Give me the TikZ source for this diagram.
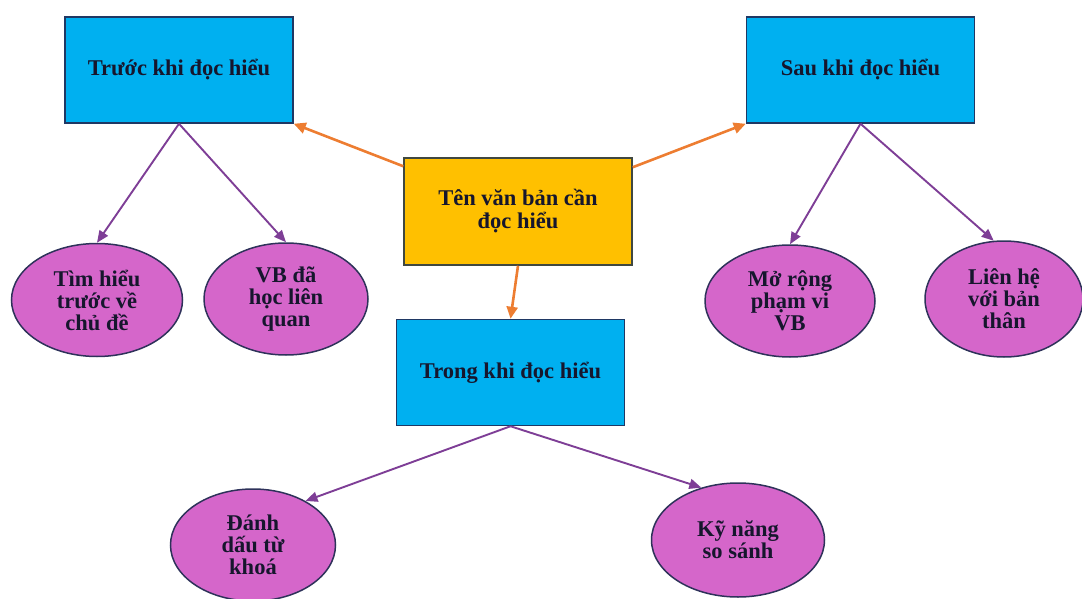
\documentclass[tikz,border=0pt]{standalone}
\usepackage{fontspec}
\setmainfont{Liberation Serif}
\usetikzlibrary{arrows.meta,shapes.geometric}
\definecolor{phaseblue}{RGB}{0,176,240}
\definecolor{boxline}{RGB}{31,56,100}
\definecolor{topicfill}{RGB}{255,192,0}
\definecolor{topicline}{RGB}{64,72,64}
\definecolor{ideafill}{RGB}{213,102,202}
\definecolor{idealine}{RGB}{46,50,90}
\definecolor{orangearrow}{RGB}{237,125,49}
\definecolor{purplearrow}{RGB}{126,62,150}
\definecolor{ink}{RGB}{22,22,45}
\begin{document}
\begin{tikzpicture}[
        x=1pt, y=-1pt,
        phase/.style={rectangle, draw=boxline, line width=1.5pt, fill=phaseblue, minimum width=228pt, minimum height=106pt, text=ink, font=\fontsize{22.5}{22}\selectfont\bfseries},
        topic/.style={rectangle, draw=topicline, line width=1.5pt, fill=topicfill, minimum width=228pt, minimum height=107pt, text=ink, align=center, font=\fontsize{22.5}{23}\selectfont\bfseries},
        idea/.style={ellipse, draw=idealine, line width=1.5pt, fill=ideafill, inner sep=0pt, text=ink, align=center, font=\fontsize{22.5}{22}\selectfont\bfseries},
        main_arrow/.style={-{Triangle[length=12pt, width=11pt]}, draw=orangearrow, fill=orangearrow, line width=2.6pt},
        sub_arrow/.style={-{Triangle[length=12pt, width=10pt]}, draw=purplearrow, fill=purplearrow, line width=1.9pt}
    ]
        \useasboundingbox (0,0) rectangle (1082,599);

        % Centre topic
        \node[topic] (topic) at (518,211.5) {Tên văn bản cần\\đọc hiểu};

        % Three phases
        \node[phase] (before) at (179,70) {Trước khi đọc hiểu};
        \node[phase] (after) at (860.5,70) {Sau khi đọc hiểu};
        \node[phase] (during) at (510.5,372.5) {Trong khi đọc hiểu};

        \draw[main_arrow] ([yshift=-9pt]topic.north west) -- (before.south east);
        \draw[main_arrow] ([yshift=-10pt]topic.north east) -- (after.south west);
        \draw[main_arrow] (topic.south) -- (during.north);

        % Before reading
        \node[idea, minimum width=171pt, minimum height=113pt] (before_topic) at (97,300) {Tìm hiểu\\trước về\\chủ đề};
        \node[idea, minimum width=164pt, minimum height=112pt] (before_text) at (286,299) {VB đã\\học liên\\quan};
        \draw[sub_arrow] (before.south) -- (before_topic.north);
        \draw[sub_arrow] (before.south) -- (before_text.north);

        % After reading
        \node[idea, minimum width=170pt, minimum height=112pt] (after_scope) at (790,301) {Mở rộng\\phạm vi\\VB};
        \node[idea, minimum width=158pt, minimum height=116pt] (after_self) at (1004,299) {Liên hệ\\với bản\\thân};
        \draw[sub_arrow] (after.south) -- (after_scope.north);
        \draw[sub_arrow] (after.south) -- (after_self.100);

        % During reading
        \node[idea, minimum width=165pt, minimum height=112pt] (during_keys) at (253,545) {Đánh\\dấu từ\\khoá};
        \node[idea, minimum width=173pt, minimum height=114pt] (during_compare) at (738,540) {Kỹ năng\\so sánh};
        \draw[sub_arrow] (during.south) -- (during_keys.40);
        \draw[sub_arrow] (during.south) -- (during_compare.125);

    \end{tikzpicture}
\end{document}
